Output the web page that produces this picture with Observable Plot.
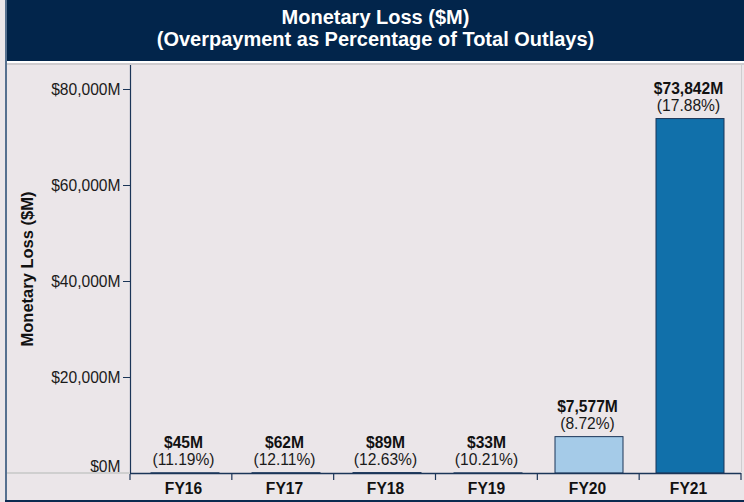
<!DOCTYPE html>
<html>
<head>
<meta charset="utf-8">
<script src="https://cdn.jsdelivr.net/npm/d3@7"></script>
<script src="https://cdn.jsdelivr.net/npm/@observablehq/plot@0.6"></script>
<style>
  html, body { margin: 0; padding: 0; background: #ebe6e9; }
  #wrap { position: relative; width: 744px; height: 502px; overflow: hidden; background: #ebe6e9; font-family: Arial, "Liberation Sans", sans-serif; }
  #title { position: absolute; left: 7px; top: 0; width: 737px; height: 61px; background: #02254b; color: #fff;
           font-weight: bold; font-size: 20px; line-height: 22px; text-align: center; padding-top: 6px; box-sizing: border-box; }
  .ln { position: absolute; }
  #chart { position: absolute; left: 0; top: 64px; }
</style>
</head>
<body>
<div id="wrap">
  <div id="chart"></div>
  <div id="title">Monetary Loss ($M)<br>(Overpayment as Percentage of Total Outlays)</div>
  <div class="ln" style="left:7px;top:61px;width:737px;height:2px;background:#ffffff"></div>
  <div class="ln" style="left:7px;top:63px;width:737px;height:2px;background:#cfcccf"></div>
  <div class="ln" style="left:7px;top:472px;width:123px;height:2px;background:#cfcfcf"></div>
  <div class="ln" style="left:741px;top:65px;width:1px;height:407px;background:#cfcccf"></div>
  <div class="ln" style="left:5px;top:0;width:2px;height:502px;background:#56708f"></div>
  <div class="ln" style="left:5px;top:500px;width:739px;height:2px;background:#0c2a50"></div>
</div>
<script>
const categories = ["FY16", "FY17", "FY18", "FY19", "FY20", "FY21"];
const losses = [45, 62, 89, 33, 7577, 73842];
const percents = [11.19, 12.11, 12.63, 10.21, 8.72, 17.88];
const yTicks = [20000, 40000, 60000, 80000];
const yZeroTick = [0];
const yTitle = "Monetary Loss ($M)";

const data = categories.map((c, i) => ({fy: c, loss: losses[i], pct: percents[i]}));

const navy = "#1b3558";
const barColors = ["#a5cbe8", "#a5cbe8", "#a5cbe8", "#a5cbe8", "#a5cbe8", "#1170aa"];
const fmtM = d => "$" + d3.format(",")(d) + "M";
const fmtP = d => "(" + d3.format(".2f")(d) + "%)";
const FS = 15.6;

const W = 744, H = 438, ML = 130, MR = 3, MT = 0, MB = 29;

const boundaryTicks = (index, scales, values, dims) => {
  const g = d3.create("svg:g");
  const step = (dims.width - dims.marginLeft - dims.marginRight) / categories.length;
  const y0 = dims.height - dims.marginBottom;
  for (let i = 0; i <= categories.length; i++) {
    const xx = dims.marginLeft + i * step;
    g.append("line").attr("x1", xx).attr("x2", xx).attr("y1", y0).attr("y2", y0 + 7)
      .attr("stroke", navy).attr("stroke-width", 1.2);
  }
  return g.node();
};

const chart = Plot.plot({
  width: W, height: H,
  marginLeft: ML, marginRight: MR, marginTop: MT, marginBottom: MB,
  style: {background: "transparent", fontFamily: "Arial, 'Liberation Sans', sans-serif", fontSize: FS + "px", color: "#222"},
  x: {domain: categories, paddingInner: 0.33, paddingOuter: 0.165, align: 0.5},
  y: {domain: [0, 80000], range: [H - MB, 25]},
  color: {domain: categories, range: barColors},
  marks: [
    Plot.barY(data, {x: "fy", y: "loss", fill: "fy", stroke: navy, strokeWidth: 1, dx: 2}),
    Plot.frame({anchor: "left", stroke: navy, strokeWidth: 1.2}),
    Plot.ruleY([0], {stroke: navy, strokeWidth: 1.5}),
    boundaryTicks,
    Plot.axisY(yTicks, {tickSize: 7, tickPadding: 3, tickFormat: fmtM, fontSize: FS, fill: "#1a1a1a", stroke: navy, label: null}),
    Plot.axisY(yZeroTick, {tickSize: 0, tickPadding: 10, dy: -7, tickFormat: fmtM, fontSize: FS, fill: "#1a1a1a", label: null}),
    Plot.axisX({tickSize: 0, tickPadding: 9, fontSize: FS, fontWeight: "bold", fill: "#111", label: null}),
    Plot.text([yTitle], {frameAnchor: "left", textAnchor: "middle", dx: -103, rotate: -90, fontSize: 16.5, fontWeight: "bold", fill: "#111"}),
    Plot.text(data, {x: "fy", y: "loss", text: d => fmtM(d.loss), dy: -30, fontSize: FS, fontWeight: "bold", fill: "#111"}),
    Plot.text(data, {x: "fy", y: "loss", text: d => fmtP(d.pct), dy: -13, fontSize: FS, fill: "#1a1a1a"})
  ]
});
document.getElementById("chart").append(chart);
</script>
</body>
</html>
